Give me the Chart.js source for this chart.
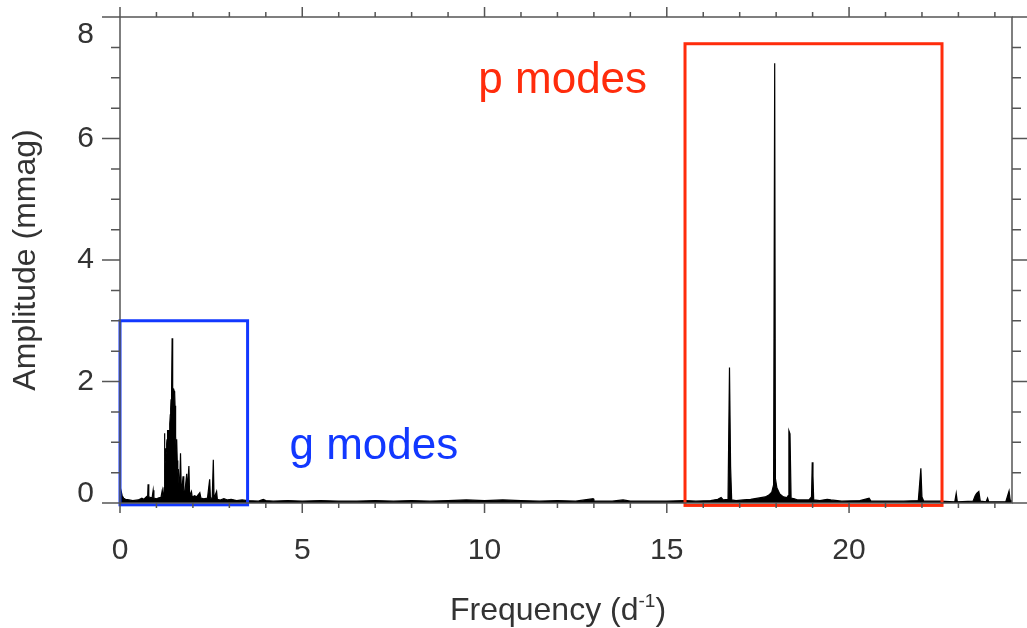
<!DOCTYPE html>
<html>
<head>
<meta charset="utf-8">
<title>Amplitude spectrum</title>
<script src="https://cdn.jsdelivr.net/npm/chart.js@4.4.1/dist/chart.umd.min.js"></script>
<style>
  html, body { margin: 0; padding: 0; background: #fff; }
  #wrap { width: 1027px; height: 628px; position: relative; }
</style>
</head>
<body>
<div id="wrap"><canvas id="spectrumChart"></canvas></div>
<script>
// Frequency (d^-1) and amplitude (mmag)
const freq = [
  0.00, 0.03, 0.06, 0.10, 0.15, 0.25, 0.35, 0.50, 0.60, 0.65, 0.72, 0.76, 0.77, 0.79, 0.84, 0.88,
  0.91, 0.93, 1.00, 1.08, 1.12, 1.16, 1.18, 1.20, 1.21, 1.22, 1.23, 1.24, 1.25, 1.26, 1.27, 1.28,
  1.29, 1.30, 1.31, 1.32, 1.33, 1.34, 1.35, 1.36, 1.37, 1.38, 1.39, 1.40, 1.41, 1.42, 1.43, 1.44,
  1.45, 1.46, 1.47, 1.48, 1.49, 1.50, 1.51, 1.52, 1.53, 1.54, 1.55, 1.56, 1.57, 1.58, 1.59, 1.60,
  1.62, 1.64, 1.66, 1.68, 1.71, 1.73, 1.75, 1.78, 1.80, 1.83, 1.85, 1.89, 1.91, 1.96, 1.98, 2.05,
  2.10, 2.19, 2.22, 2.30, 2.40, 2.46, 2.48, 2.53, 2.56, 2.58, 2.65, 2.67, 2.75, 2.85, 2.95, 3.05,
  3.20, 3.35, 3.50,
  3.80, 3.93, 4.00, 4.20, 4.60, 5.00, 5.50, 6.00, 6.50, 7.00, 7.50, 8.00, 8.50, 9.00, 9.50,
  10.00, 10.50, 11.00, 11.50, 12.00, 12.50, 12.98, 13.00, 13.50, 13.80, 14.00, 14.50, 15.00, 15.50,
  15.80, 16.20, 16.40, 16.49, 16.55, 16.68, 16.72, 16.75, 16.78, 16.90, 17.10, 17.30, 17.50, 17.70,
  17.80, 17.88, 17.93, 17.96, 17.98, 18.02, 18.10, 18.20, 18.30, 18.33, 18.35, 18.38, 18.41, 18.50,
  18.60, 18.80, 18.90, 18.97, 18.99, 19.01, 19.03, 19.20, 19.40, 19.50, 19.80, 20.30, 20.55, 20.60,
  21.00, 21.50, 21.90, 21.97, 22.00, 22.05, 22.50, 22.90, 22.94, 22.97, 23.40, 23.46, 23.50, 23.56,
  23.60, 23.76, 23.80, 23.83, 24.30, 24.39, 24.42, 24.47
];
const amp = [
  0.27, 0.20, 0.12, 0.08, 0.06, 0.05, 0.04, 0.05, 0.08, 0.06, 0.10, 0.12, 0.31, 0.10, 0.09, 0.08,
  0.21, 0.08, 0.07, 0.09, 0.08, 0.21, 0.10, 0.15, 0.25, 1.15, 0.55, 0.70, 0.90, 0.75, 0.85, 0.97,
  1.05, 1.20, 0.95, 0.90, 1.05, 1.20, 1.15, 1.10, 1.30, 1.45, 1.55, 1.70, 1.80, 1.85, 2.71, 1.85,
  1.87, 1.88, 1.87, 1.86, 1.84, 1.80, 1.60, 1.40, 1.10, 0.90, 0.95, 1.05, 0.70, 0.60, 0.50, 0.56,
  0.30, 0.35, 0.82, 0.25, 0.30, 0.44, 0.20, 0.18, 0.30, 0.48, 0.20, 0.61, 0.12, 0.19, 0.10, 0.12,
  0.10, 0.17, 0.08, 0.07, 0.08, 0.39, 0.08, 0.08, 0.71, 0.08, 0.19, 0.06, 0.05, 0.07, 0.05, 0.06,
  0.04, 0.05, 0.04,
  0.03, 0.06, 0.04, 0.03, 0.04, 0.03, 0.04, 0.03, 0.03, 0.04, 0.03, 0.04, 0.03, 0.04, 0.05,
  0.04, 0.05, 0.04, 0.03, 0.04, 0.03, 0.07, 0.03, 0.03, 0.05, 0.03, 0.03, 0.03, 0.04,
  0.03, 0.04, 0.06, 0.09, 0.05, 0.06, 2.23, 0.60, 0.05, 0.04, 0.05, 0.06, 0.08, 0.10,
  0.13, 0.18, 0.30, 7.24, 0.40, 0.25, 0.15, 0.10, 0.09, 0.12, 1.19, 1.14, 0.08, 0.07,
  0.05, 0.05, 0.05, 0.10, 0.67, 0.45, 0.05, 0.04, 0.06, 0.05, 0.03, 0.04, 0.08, 0.03,
  0.03, 0.03, 0.04, 0.57, 0.10, 0.03, 0.03, 0.02, 0.16, 0.02, 0.03, 0.12, 0.16, 0.19,
  0.03, 0.02, 0.08, 0.02, 0.02, 0.20, 0.05, 0.03
];

// Axis ticks
const xTicks = [0, 5, 10, 15, 20];
const xMinorTicks = [1, 2, 3, 4, 6, 7, 8, 9, 11, 12, 13, 14, 16, 17, 18, 19, 21, 22, 23, 24];
const yTicks = [0, 2, 4, 6, 8];
const yMinorTicks = [0.5, 1, 1.5, 2.5, 3, 3.5, 4.5, 5, 5.5, 6.5, 7, 7.5];

// Highlight boxes: [xFrom, xTo, yFrom, yTo]
const gBox = [0, 3.5, -0.03, 3.0];
const pBox = [15.5, 22.55, -0.04, 7.56];
const boxLabels = ['g modes', 'p modes'];

const FONT = '"Liberation Sans", Arial, Helvetica, sans-serif';
const BLUE = '#1238ff';
const RED = '#ff2c0c';
const AXIS = '#555555';
const TEXT = '#333333';

// Frame, outward ticks, boxes and labels
const decorPlugin = {
  id: 'decor',
  afterDatasetsDraw(chart) {
    const { ctx, scales: { x, y } } = chart;
    ctx.save();
    ctx.lineWidth = 3;
    [[gBox, BLUE], [pBox, RED]].forEach(([b, col]) => {
      const x0 = x.getPixelForValue(b[0]);
      const x1 = x.getPixelForValue(b[1]);
      const y0 = y.getPixelForValue(b[2]);
      const y1 = y.getPixelForValue(b[3]);
      ctx.strokeStyle = col;
      ctx.strokeRect(Math.min(x0, x1), Math.min(y0, y1), Math.abs(x1 - x0), Math.abs(y1 - y0));
    });
    ctx.font = '44px ' + FONT;
    ctx.textBaseline = 'alphabetic';
    ctx.textAlign = 'left';
    ctx.fillStyle = BLUE;
    ctx.fillText(boxLabels[0], x.getPixelForValue(4.65), y.getPixelForValue(0.72));
    ctx.fillStyle = RED;
    ctx.fillText(boxLabels[1], x.getPixelForValue(9.83), y.getPixelForValue(6.75));
    ctx.restore();
  },
  afterDraw(chart) {
    const { ctx, chartArea: a, scales: { x, y } } = chart;
    ctx.save();
    ctx.strokeStyle = AXIS;
    ctx.lineWidth = 1.5;
    ctx.strokeRect(a.left, a.top, a.right - a.left, a.bottom - a.top);

    ctx.beginPath();
    const tickX = (v, len) => {
      const px = x.getPixelForValue(v);
      ctx.moveTo(px, a.bottom); ctx.lineTo(px, a.bottom + len);
      ctx.moveTo(px, a.top); ctx.lineTo(px, a.top - len);
    };
    const tickY = (v, len) => {
      const py = y.getPixelForValue(v);
      ctx.moveTo(a.left, py); ctx.lineTo(a.left - len, py);
      ctx.moveTo(a.right, py); ctx.lineTo(a.right + len, py);
    };
    xTicks.forEach(v => tickX(v, 10));
    xMinorTicks.forEach(v => tickX(v, 5));
    yTicks.forEach(v => tickY(v, 18));
    yMinorTicks.forEach(v => tickY(v, 9));
    ctx.stroke();

    // y tick labels, kept inside the frame at both ends
    ctx.fillStyle = TEXT;
    ctx.font = '30px ' + FONT;
    ctx.textAlign = 'right';
    ctx.textBaseline = 'middle';
    yTicks.forEach(v => {
      let py = y.getPixelForValue(v);
      py = Math.min(Math.max(py, a.top + 18), a.bottom - 9);
      ctx.fillText(String(v), a.left - 26, py);
    });

    // x title with superscript
    const main = 'Frequency (d';
    const sup = '-1';
    const tail = ')';
    ctx.textAlign = 'left';
    ctx.textBaseline = 'alphabetic';
    ctx.font = '32px ' + FONT;
    const w1 = ctx.measureText(main).width;
    const w3 = ctx.measureText(tail).width;
    ctx.font = '19px ' + FONT;
    const w2 = ctx.measureText(sup).width;
    const total = w1 + w2 + w3;
    const cx = (a.left + a.right) / 2 - 8;
    const base = 620;
    let px = cx - total / 2;
    ctx.font = '32px ' + FONT;
    ctx.fillText(main, px, base);
    px += w1;
    ctx.font = '19px ' + FONT;
    ctx.fillText(sup, px, base - 13);
    px += w2;
    ctx.font = '32px ' + FONT;
    ctx.fillText(tail, px, base);
    ctx.restore();
  }
};

const ctx = document.getElementById('spectrumChart').getContext('2d');
const spectrumChart = new Chart(ctx, {
  type: 'line',
  data: {
    datasets: [{
      label: 'Amplitude',
      data: freq.map((f, i) => ({ x: f, y: amp[i] })),
      borderColor: '#000',
      backgroundColor: '#000',
      borderWidth: 1.2,
      pointRadius: 0,
      fill: 'origin',
      tension: 0
    }]
  },
  options: {
    responsive: true,
    maintainAspectRatio: false,
    animation: false,
    devicePixelRatio: 1,
    layout: { padding: { left: 0, top: 17, right: 15, bottom: 0 } },
    plugins: {
      legend: { display: false },
      tooltip: { enabled: false }
    },
    scales: {
      x: {
        type: 'linear',
        min: 0,
        max: 24.47,
        afterBuildTicks: (scale) => { scale.ticks = xTicks.map(v => ({ value: v })); },
        afterFit: (scale) => { scale.height = 125; },
        grid: { display: false },
        border: { display: false },
        ticks: {
          font: { family: FONT, size: 30 },
          color: TEXT,
          padding: 22,
          maxRotation: 0
        },
        title: { display: false }
      },
      y: {
        type: 'linear',
        min: 0,
        max: 8,
        afterBuildTicks: (scale) => { scale.ticks = yTicks.map(v => ({ value: v })); },
        afterFit: (scale) => { scale.width = 120; },
        grid: { display: false },
        border: { display: false },
        ticks: { display: false },
        title: {
          display: true,
          text: 'Amplitude (mmag)',
          font: { family: FONT, size: 32 },
          color: TEXT,
          padding: { top: 7, bottom: 0 }
        }
      }
    }
  },
  plugins: [decorPlugin]
});
</script>
</body>
</html>
